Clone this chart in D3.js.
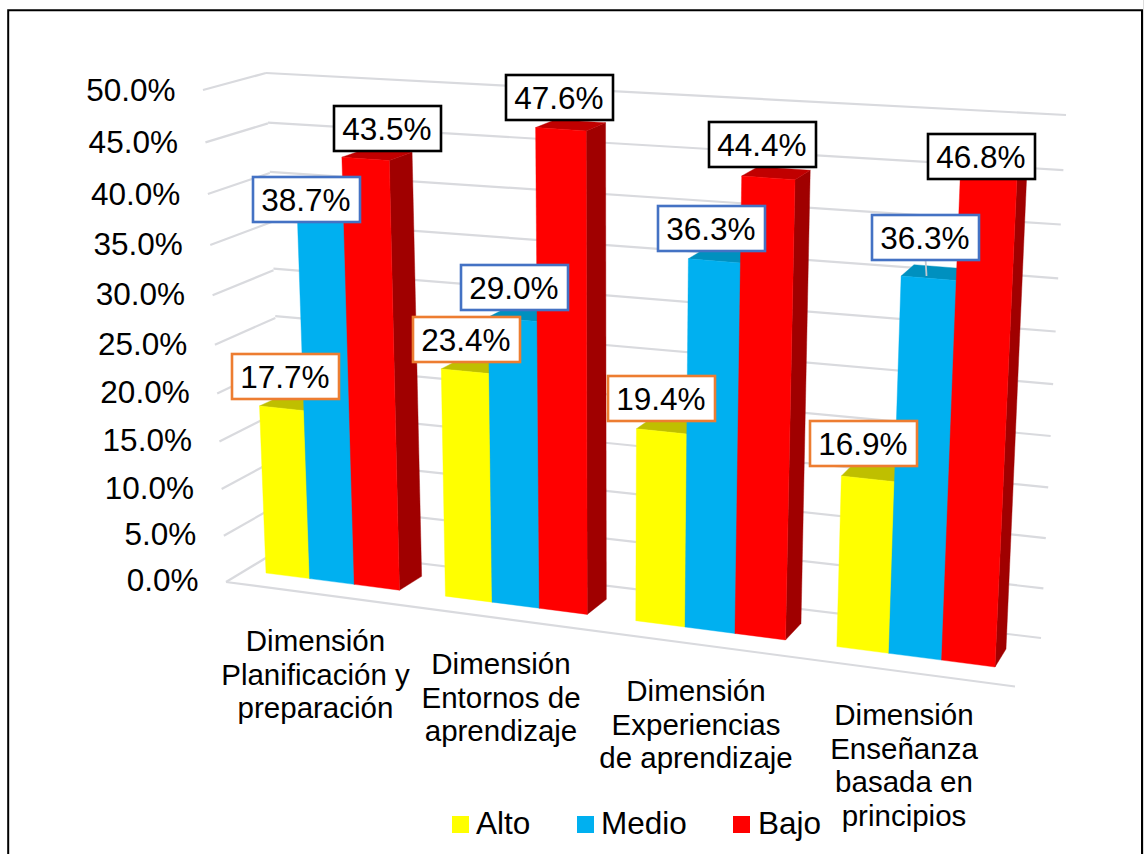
<!DOCTYPE html>
<html><head><meta charset="utf-8">
<script src="https://cdn.jsdelivr.net/npm/d3@7"></script>
<style>html,body{margin:0;padding:0;background:#fff;overflow:hidden}svg{display:block}
text{font-family:"Liberation Sans",Arial,sans-serif;fill:#000}</style></head>
<body><svg id="c" width="1144" height="854"></svg>
<script>
// ---- data ----
const categories = ["Planificación","Entornos","Experiencias","Enseñanza"];
const categoryLines = [
  ["Dimensión","Planificación y","preparación"],
  ["Dimensión","Entornos de","aprendizaje"],
  ["Dimensión","Experiencias","de aprendizaje"],
  ["Dimensión","Enseñanza","basada en","principios"]];
const seriesNames = ["Alto","Medio","Bajo"];
const alto  = [17.7,23.4,19.4,16.9];
const medio = [38.7,29.0,36.3,36.3];
const bajo  = [43.5,47.6,44.4,46.8];
const tickValues = [0,5,10,15,20,25,30,35,40,45,50];

// ---- styles & layout ----
const faceColors = {Alto:"#ffff00",Medio:"#00b0f0",Bajo:"#ff0000"};
const topColors  = {Alto:"#bfbf00",Medio:"#0090bf",Bajo:"#c00000"};
const sideColors = {Alto:"#a0a000",Medio:"#007aa8",Bajo:"#a00000"};
const borderColors = {Alto:"#ed7d31",Medio:"#4472c4",Bajo:"#000000"};
const seriesValues = {Alto:alto,Medio:medio,Bajo:bajo};
// label box left/top (px) by series, then category
const labelBoxes = {
  Alto:[[232,354],[413,317],[608,376],[810,421]],
  Medio:[[253,177],[461,265],[658,206],[872,215]],
  Bajo:[[334,106],[506,75],[709,122],[928,134]]};
const labelW=107,labelH=45;
const catAnchor=[[315.5,651],[501,674],[696,701],[904,725]];
const legendPos=[[452,476],[577,601],[733,758]];

// projective map of the unit square onto a quadrilateral
function quad(p00,p10,p11,p01){
  const [x0,y0]=p00,[x1,y1]=p10,[x2,y2]=p11,[x3,y3]=p01;
  const dx1=x1-x2,dx2=x3-x2,sx=x0-x1+x2-x3,dy1=y1-y2,dy2=y3-y2,sy=y0-y1+y2-y3;
  const den=dx1*dy2-dx2*dy1;
  const g=(sx*dy2-dx2*sy)/den,h=(dx1*sy-sx*dy1)/den;
  const a=x1-x0+g*x1,b=x3-x0+h*x3,d=y1-y0+g*y1,e=y3-y0+h*y3;
  return (u,v)=>{const w=g*u+h*v+1;return [(a*u+b*v+x0)/w,(d*u+e*v+y0)/w];};
}
const v = d3.scaleLinear().domain([0,50]).range([0,1]);
const backWall = quad([284,547],[1041,638],[1066,115],[266,73]);
const sideWall = quad([226,582],[284,547],[266,73],[203,90]);
const barFront = quad([266,573],[995,667],[1019,132],[247,84]);
const barBack  = quad([290,560],[1006,649],[1029,123],[272,77]);
const xCat = d3.scaleBand().domain(categories).range([0,1]).paddingInner(0.25);
const xSer = d3.scaleBand().domain(seriesNames).range([0,xCat.bandwidth()]);
const uWarp = d3.scalePow().exponent(1.007).domain([0,1]).range([0,1]);

const svg=d3.select("#c");
const line=(g,a,b,col,w)=>g.append("line").attr("x1",a[0]).attr("y1",a[1]).attr("x2",b[0]).attr("y2",b[1]).attr("stroke",col).attr("stroke-width",w);
const poly=(g,pts,f)=>g.append("polygon").attr("points",pts.map(p=>p.join(",")).join(" ")).attr("fill",f).attr("stroke",f).attr("stroke-width",0.4);

// frame
line(svg,[1144,0],[1144,854],"#dcdcdc",2);
svg.append("path").attr("d","M8.2,854V10.2H1142V854").attr("fill","none").attr("stroke","#000").attr("stroke-width",2);

// gridlines
const grid=svg.append("g");
const gridCol="#d9dade";
tickValues.forEach(t=>{
  const tv=v(t);
  line(grid,sideWall(0,tv),sideWall(1,tv),gridCol,2.2);
  line(grid,backWall(0,tv),backWall(1,tv),gridCol,2.2);
});
line(grid,sideWall(0,0),[1015,686.5],gridCol,2.2);

// tick labels
svg.append("g").selectAll("text").data(tickValues).join("text")
  .attr("x",d=>sideWall(0,v(d))[0]-27.5).attr("y",d=>sideWall(0,v(d))[1]+1+d/50*1.5)
  .attr("text-anchor","end").attr("dominant-baseline","middle")
  .attr("font-size",31.5).text(d=>d3.format(".1f")(d)+"%");

// bars
const bars=svg.append("g");
categories.forEach((c,i)=>{
  seriesNames.forEach(s=>{
    const val=seriesValues[s][i];
    const raw0=xCat(c)+xSer(s),raw1=raw0+xSer.bandwidth();
    const u0=uWarp(raw0),u1=uWarp(raw1),t=v(val);
    const fb0=barFront(u0,0),fb1=barFront(u1,0),ft0=barFront(u0,t),ft1=barFront(u1,t);
    const bb1=barBack(u1,0),bt0=barBack(u0,t),bt1=barBack(u1,t);
    poly(bars,[fb1,bb1,bt1,ft1],sideColors[s]);
    poly(bars,[ft0,ft1,bt1,bt0],topColors[s]);
    poly(bars,[fb0,fb1,ft1,ft0],faceColors[s]);
  });
});

// leader line
line(svg,[925.5,258],[926.5,276],"#c4c8d0",1.8);

// labels
const lab=svg.append("g");
seriesNames.forEach(s=>{
  seriesValues[s].forEach((val,i)=>{
    const [x,y]=labelBoxes[s][i];
    lab.append("rect").attr("x",x).attr("y",y).attr("width",labelW).attr("height",labelH)
      .attr("fill","#fff").attr("stroke",borderColors[s]).attr("stroke-width",2.6);
    lab.append("text").attr("x",x+labelW/2-0.7).attr("y",y+labelH/2+11).attr("text-anchor","middle")
      .attr("font-size",31.5).text(d3.format(".1f")(val)+"%");
  });
});

// category labels
categoryLines.forEach((ls,i)=>{
  const t=svg.append("text").attr("text-anchor","middle").attr("font-size",29.5);
  ls.forEach((l,j)=>t.append("tspan").attr("x",catAnchor[i][0]).attr("y",catAnchor[i][1]+j*33.7).text(l));
});

// legend
seriesNames.forEach((s,i)=>{
  svg.append("rect").attr("x",legendPos[i][0]).attr("y",816).attr("width",17).attr("height",17).attr("fill",faceColors[s]);
  svg.append("text").attr("x",legendPos[i][1]).attr("y",834).attr("font-size",31.5).text(s);
});
</script></body></html>
